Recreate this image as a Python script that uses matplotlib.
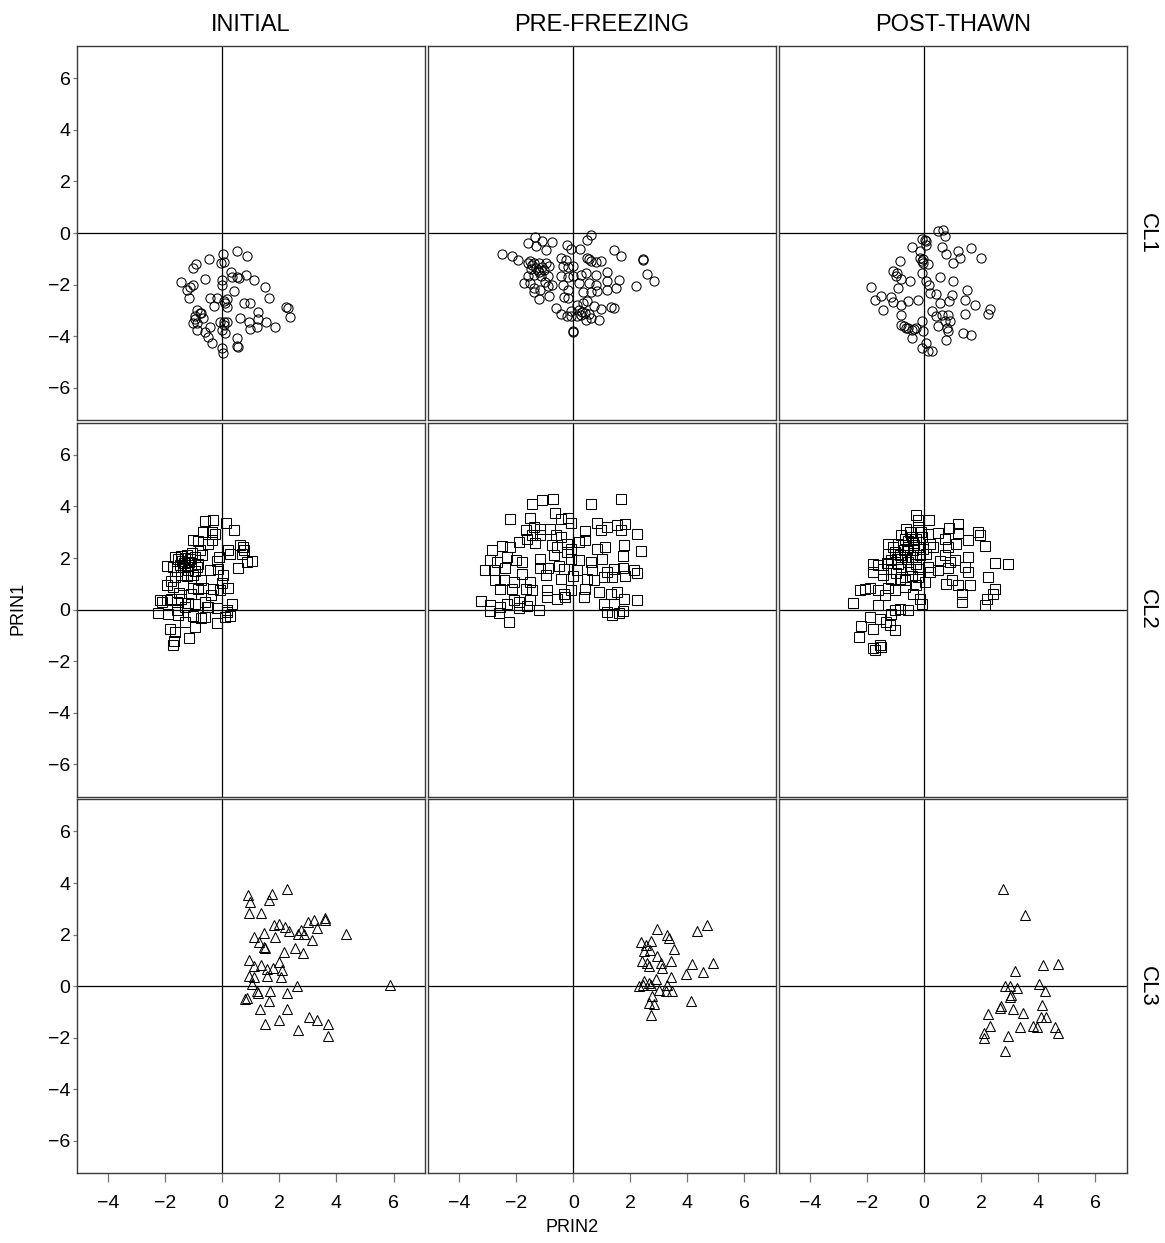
import matplotlib
matplotlib.use("Agg")
import matplotlib.pyplot as plt
import numpy as np

plt.rcParams["font.family"] = ["Liberation Sans", "DejaVu Sans"]

col_titles = ["INITIAL", "PRE-FREEZING", "POST-THAWN"]
row_titles = ["CL1", "CL2", "CL3"]
row_markers = ["o", "s", "^"]

# (PRIN2, PRIN1) pairs per cluster and stage
cl1_initial = [
    (0.50, -0.68), (0.88, -0.89), (0.01, -0.83), (-0.46, -0.99), (-0.92, -1.20), (-1.02, -1.37),
    (-0.06, -1.18), (0.06, -1.14), (-1.46, -1.89), (-1.13, -2.08), (-1.02, -2.02), (-1.23, -2.21),
    (-1.16, -2.53), (-0.61, -1.80), (-0.02, -1.82), (-0.01, -2.02), (0.29, -1.50), (0.33, -1.69),
    (0.53, -1.72), (0.60, -1.76), (0.83, -1.63), (1.11, -1.82), (1.50, -2.08), (1.65, -2.53),
    (0.41, -2.25), (0.15, -2.57), (0.06, -2.64), (-0.20, -2.53), (-0.43, -2.53), (-0.29, -2.83),
    (0.15, -2.86), (0.76, -2.70), (0.97, -2.70), (1.26, -3.05), (2.23, -2.86), (2.37, -3.24),
    (-0.90, -2.98), (-0.96, -3.22), (-0.73, -3.09), (-0.67, -3.31), (-0.88, -3.50), (-1.04, -3.50),
    (-0.90, -3.76), (-0.61, -3.82), (-0.43, -3.63), (-0.08, -3.44), (0.06, -3.44), (0.18, -3.44),
    (0.62, -3.31), (0.95, -3.44), (1.26, -3.35), (1.53, -3.44), (1.85, -3.63), (1.20, -3.66),
    (0.97, -3.73), (-0.01, -3.76), (0.09, -3.89), (-0.49, -4.02), (-0.37, -4.28), (-0.02, -4.47),
    (0.53, -4.08), (0.50, -4.38), (0.56, -4.43), (0.04, -4.66), (-0.78, -3.11),
    (2.30, -2.90), (0.05, -3.55), (-0.95, -3.35), (0.10, -2.70),
]
cl1_prefreeze = [
    (0.62, -0.06), (0.48, -0.26), (-1.35, -0.16), (-1.60, -0.39), (-1.08, -0.32), (-0.73, -0.36),
    (-1.31, -0.52), (-0.96, -0.65), (-2.48, -0.80), (-2.13, -0.88), (-1.95, -1.03), (-0.22, -0.45),
    (-0.08, -0.62), (0.25, -0.62), (1.44, -0.67), (1.67, -0.88), (2.43, -1.01), (-1.60, -1.16),
    (-1.39, -1.16), (-1.19, -1.16), (-0.96, -1.16), (-1.49, -1.40), (-1.25, -1.42), (-1.02, -1.45),
    (-0.84, -1.29), (-1.37, -1.62), (-1.13, -1.68), (-0.90, -1.68), (-1.51, -1.94), (-1.37, -2.13),
    (-1.16, -2.20), (-0.90, -2.07), (-0.73, -2.00), (-1.19, -2.56), (-0.84, -2.43), (-0.43, -0.97),
    (-0.26, -1.03), (-0.37, -1.29), (-0.18, -1.32), (0.01, -1.27), (0.50, -0.97), (0.62, -1.10),
    (0.80, -1.14), (0.97, -1.10), (0.27, -1.62), (0.44, -1.55), (0.80, -1.62), (1.20, -1.52),
    (-0.43, -1.65), (-0.18, -1.71), (-0.02, -1.68), (0.21, -1.94), (0.56, -1.94), (0.80, -2.00),
    (1.20, -1.87), (1.61, -1.83), (1.50, -2.13), (1.20, -2.20), (2.20, -2.04), (2.58, -1.58),
    (2.82, -1.87), (0.33, -2.30), (0.62, -2.30), (0.85, -2.26), (-0.34, -2.00), (-0.18, -2.20),
    (-0.32, -2.48), (-0.18, -2.52), (-0.61, -2.91), (-0.43, -3.13), (-0.08, -3.04), (0.15, -2.78),
    (0.33, -2.71), (0.50, -2.65), (0.74, -2.84), (0.97, -2.95), (1.32, -2.87), (1.44, -2.91),
    (-0.08, -3.23), (0.15, -3.23), (0.27, -3.17), (0.44, -3.36), (0.62, -3.30), (0.91, -3.36),
    (-0.02, -3.85), (-0.02, -3.80), (-1.37, -2.30), (-1.72, -1.94), (-1.60, -1.68),
    (-1.45, -1.25), (-1.30, -1.35), (-1.10, -1.30), (0.30, -3.05), (0.40, -3.10),
    (-1.50, -1.10), (-1.20, -1.50), (-1.00, -1.90), (2.45, -1.05), (0.55, -1.00),
    (0.20, -3.00), (0.55, -3.15), (-0.20, -3.20),
]
cl1_postthaw = [
    (0.49, 0.06), (0.67, 0.13), (0.73, -0.13), (-0.09, -0.22), (0.02, -0.26), (0.08, -0.45),
    (-0.44, -0.56), (-0.15, -0.68), (0.61, -0.56), (1.19, -0.68), (1.66, -0.58), (0.78, -0.81),
    (1.25, -0.97), (2.01, -0.97), (1.02, -1.16), (-0.85, -1.07), (-0.15, -0.97), (-0.09, -1.10),
    (0.14, -1.20), (-1.09, -1.49), (-0.97, -1.68), (-0.80, -1.77), (-0.50, -1.85), (-0.91, -2.13),
    (-0.09, -1.55), (0.08, -1.87), (0.16, -2.00), (0.55, -1.72), (1.02, -1.87), (-1.85, -2.11),
    (-1.73, -2.58), (-1.50, -2.45), (-1.15, -2.49), (-1.09, -2.67), (-1.44, -2.97), (-0.82, -2.78),
    (-0.56, -2.65), (-0.21, -2.58), (0.20, -2.33), (0.43, -2.36), (0.96, -2.39), (0.87, -2.62),
    (1.49, -2.20), (1.43, -2.58), (1.78, -2.80), (2.30, -2.93), (2.25, -3.14), (1.45, -3.14),
    (-0.80, -3.17), (0.26, -3.04), (0.55, -2.71), (0.43, -3.23), (0.61, -3.17), (0.84, -3.17),
    (0.90, -3.42), (0.73, -3.42), (-0.80, -3.55), (-0.62, -3.68), (-0.44, -3.75), (-0.27, -3.68),
    (-0.09, -3.42), (-0.04, -3.81), (-0.44, -4.07), (0.49, -3.62), (0.84, -3.81), (0.78, -4.13),
    (1.37, -3.88), (1.66, -3.94), (-0.09, -4.46), (0.12, -4.59), (0.26, -4.56), (0.08, -4.26),
    (-0.05, -1.00), (-0.95, -1.55), (-0.55, -3.70), (-0.70, -3.60), (-0.35, -3.72),
    (0.05, -0.30), (-0.05, -1.15), (0.80, -3.70),
]

cl2_initial = [
    (-0.61, 3.44), (-0.34, 3.49), (0.13, 3.36), (0.41, 3.10), (-0.67, 3.01), (-0.37, 3.01),
    (-0.26, 2.95), (-1.02, 2.69), (-0.84, 2.66), (-0.37, 2.69), (-0.78, 2.33), (0.21, 2.33),
    (0.62, 2.49), (0.74, 2.43), (0.27, 2.17), (0.68, 2.14), (1.03, 1.89), (0.85, 1.85),
    (0.56, 1.63), (-0.11, 2.04), (-0.20, 1.89), (-1.66, 2.02), (-1.43, 2.07), (-1.25, 2.11),
    (-1.13, 1.98), (-0.96, 2.02), (-0.84, 1.78), (-1.93, 1.68), (-1.72, 1.65), (-1.49, 1.72),
    (-1.31, 1.65), (-1.08, 1.72), (-0.90, 1.65), (-0.43, 1.55), (-0.14, 1.59), (0.04, 1.33),
    (0.21, 0.85), (-0.02, 1.03), (-1.66, 1.27), (-1.43, 1.33), (-1.25, 1.29), (-1.02, 1.33),
    (-0.73, 1.16), (-0.67, 0.85), (-1.95, 0.94), (-1.72, 0.88), (-1.37, 0.94), (-1.02, 0.85),
    (-0.84, 0.81), (-0.32, 0.81), (-0.08, 0.75), (-2.19, 0.39), (-1.95, 0.36), (-1.78, 0.43),
    (-1.58, 0.30), (-1.43, 0.43), (-1.19, 0.26), (-0.96, 0.23), (-0.61, 0.30), (-0.49, 0.10),
    (-0.20, 0.08), (0.33, 0.23), (-2.25, -0.13), (-1.89, -0.16), (-1.54, -0.22), (-1.02, -0.26),
    (-0.73, -0.31), (-0.61, -0.28), (-0.20, -0.52), (0.18, -0.09), (0.27, -0.26), (-0.96, -0.67),
    (-1.84, -0.74), (-1.66, -0.87), (-1.72, -1.38), (-1.16, -1.09), (-0.55, 0.10), (-1.60, -0.03),
    (-1.55, 1.95), (-1.35, 1.80), (-1.20, 1.55), (-1.05, 2.20), (-0.70, 2.10), (-1.80, 1.10),
    (-1.50, 0.65), (-1.10, 0.60), (-0.40, 0.55), (0.10, -0.30), (-1.70, -1.20), (-1.30, -0.50),
    (-1.40, 1.90), (-1.15, 1.85), (-1.30, 2.00), (-0.95, 1.50), (-1.60, 1.50), (-2.10, 0.30),
    (-1.30, 0.10), (0.15, 0.00), (-0.50, 2.55), (0.75, 2.30),
]
cl2_prefreeze = [
    (-1.44, 4.11), (-1.11, 4.24), (-0.70, 4.30), (0.61, 4.11), (1.68, 4.30), (-2.20, 3.53),
    (-1.52, 3.57), (-0.65, 3.75), (-0.44, 3.53), (-0.19, 3.57), (-0.09, 3.36), (0.84, 3.36),
    (1.19, 3.20), (1.54, 3.27), (1.80, 3.33), (-1.67, 3.07), (-1.38, 3.20), (-1.15, 3.14),
    (-0.80, 3.14), (-0.62, 2.88), (-0.44, 2.82), (0.43, 3.05), (0.96, 3.07), (1.66, 3.10),
    (2.25, 2.92), (-2.84, 2.30), (-2.49, 2.45), (-2.20, 2.43), (-1.91, 2.62), (-1.61, 2.75),
    (-1.44, 2.88), (-1.15, 2.88), (-0.74, 2.49), (-0.56, 2.43), (-0.21, 2.56), (-0.09, 2.36),
    (0.20, 2.62), (0.43, 2.69), (0.84, 2.36), (1.13, 2.43), (1.78, 2.49), (2.36, 2.27),
    (-2.90, 1.91), (-2.67, 1.85), (-2.32, 2.04), (-2.02, 1.91), (-1.79, 1.85), (-1.15, 1.98),
    (-0.68, 2.11), (-0.09, 1.98), (0.20, 1.91), (0.61, 1.85), (1.75, 2.07), (-3.08, 1.55),
    (-2.78, 1.52), (-1.15, 1.63), (-0.89, 1.63), (-0.33, 1.59), (0.14, 1.52), (0.67, 1.52),
    (1.19, 1.46), (1.43, 1.59), (1.75, 1.63), (2.13, 1.52), (2.25, 1.40), (-2.73, 1.14),
    (-2.43, 1.14), (-2.08, 1.07), (-1.79, 1.37), (-1.50, 1.07), (-0.97, 1.33), (-0.44, 1.20),
    (0.49, 1.20), (0.73, 1.14), (1.08, 1.27), (1.37, 1.27), (1.80, 1.29), (-2.55, 0.81),
    (-2.14, 0.81), (-1.67, 0.78), (-1.44, 0.75), (-0.91, 0.75), (-0.33, 0.62), (-0.09, 0.75),
    (0.43, 0.81), (0.90, 0.68), (1.31, 0.62), (1.54, 0.68), (-3.23, 0.34), (-2.90, 0.17),
    (-2.32, 0.21), (-1.91, 0.30), (-1.50, 0.39), (-0.91, 0.49), (-0.56, 0.43), (-0.27, 0.49),
    (0.37, 0.49), (1.08, 0.23), (1.43, 0.21), (1.78, 0.43), (2.25, 0.36), (-1.61, 0.13),
    (-2.08, 0.36), (-2.90, -0.05), (-2.60, -0.15), (-2.25, -0.50), (1.20, -0.10), (1.35, -0.20),
    (1.60, -0.15), (1.75, -0.05), (-1.20, 0.00), (-1.90, 0.05), (-2.55, 0.10),
    (-1.35, 2.60), (-0.20, 2.25), (-0.50, 1.70), (-2.40, 1.60), (0.00, 1.30), (1.00, 1.95),
]
cl2_postthaw = [
    (-0.30, 3.66), (-0.23, 3.46), (0.16, 3.46), (0.87, 3.18), (1.17, 3.33), (1.19, 2.97),
    (1.89, 3.01), (1.95, 2.88), (2.13, 2.45), (1.54, 2.69), (1.10, 2.56), (-0.62, 3.14),
    (-0.50, 3.01), (-0.21, 3.20), (-0.12, 3.01), (0.14, 2.95), (0.49, 2.97), (-0.80, 2.88),
    (-0.68, 2.75), (-0.44, 2.82), (-0.27, 2.75), (-0.09, 2.82), (-1.26, 2.56), (-1.09, 2.43),
    (-0.91, 2.53), (-0.74, 2.49), (-0.56, 2.43), (-0.39, 2.33), (-0.21, 2.43), (0.20, 2.56),
    (0.73, 2.75), (0.84, 2.43), (0.32, 2.43), (0.73, 2.11), (0.90, 1.85), (1.08, 1.91),
    (1.54, 2.04), (2.48, 1.81), (2.95, 1.78), (1.43, 1.65), (1.54, 1.46), (-1.26, 2.17),
    (-1.03, 2.24), (-0.85, 2.11), (-0.68, 2.04), (-0.44, 2.04), (-0.15, 2.11), (0.08, 2.17),
    (-1.15, 1.91), (-0.91, 1.78), (-0.56, 1.85), (-0.27, 1.78), (0.14, 1.65), (0.49, 1.52),
    (-1.79, 1.78), (-1.61, 1.72), (-1.44, 1.59), (-1.15, 1.59), (-0.80, 1.65), (-0.50, 1.59),
    (-0.21, 1.59), (0.20, 1.46), (-1.79, 1.46), (-1.44, 1.33), (-1.15, 1.20), (-0.85, 1.20),
    (-0.68, 1.14), (-0.44, 1.29), (-0.21, 1.27), (0.02, 1.07), (0.78, 1.01), (0.96, 1.14),
    (1.19, 0.94), (1.31, 0.62), (1.31, 0.30), (1.60, 0.94), (2.25, 1.27), (2.48, 0.81),
    (2.42, 0.62), (2.19, 0.43), (2.13, 0.17), (-2.26, 0.75), (-2.08, 0.81), (-1.91, 0.85),
    (-1.61, 0.75), (-1.38, 0.56), (-1.03, 0.75), (-0.68, 0.88), (-0.39, 0.62), (-0.15, 0.43),
    (-0.09, 0.23), (-2.49, 0.26), (-1.61, 0.17), (-1.03, -0.03), (-0.85, 0.04), (-0.56, -0.03),
    (-1.15, -0.16), (-1.91, -0.28), (-1.56, -0.35), (-1.32, -0.48), (-2.20, -0.65), (-1.79, -0.74),
    (-1.20, -0.61), (-1.03, -0.80), (-2.29, -1.06), (-1.79, -1.47), (-1.56, -1.38), (-1.50, -1.45),
    (-1.73, -1.58), (-0.40, 2.60), (-0.60, 2.30), (-0.30, 2.05), (-0.95, 1.95), (-1.30, 1.80),
    (-0.55, 2.65), (-0.70, 2.30), (-0.35, 2.50), (-0.05, 2.35), (-0.80, 1.95), (-1.00, 1.40),
    (-0.30, 0.95), (-1.25, 0.85), (0.55, 1.90), (0.85, 1.60),
]

cl3_initial = [
    (2.27, 3.76), (1.74, 3.59), (0.89, 3.54), (0.98, 3.28), (1.63, 3.33), (0.92, 2.82),
    (1.36, 2.82), (1.80, 2.38), (1.98, 2.43), (2.21, 2.30), (2.33, 2.14), (2.74, 2.17),
    (2.64, 2.04), (2.85, 2.02), (2.99, 2.47), (3.20, 2.56), (3.32, 2.25), (3.61, 2.66),
    (3.61, 2.56), (4.32, 2.04), (3.15, 1.78), (1.10, 1.91), (1.45, 2.08), (1.86, 1.89),
    (1.27, 1.73), (1.45, 1.52), (1.51, 1.47), (2.15, 1.34), (2.56, 1.50), (2.83, 1.27),
    (0.92, 1.01), (1.10, 0.79), (1.36, 0.83), (1.57, 0.66), (1.78, 0.70), (1.98, 0.92),
    (2.09, 0.62), (0.92, 0.40), (1.10, 0.34), (1.57, 0.40), (2.04, 0.34), (1.04, 0.08),
    (2.60, 0.01), (1.22, -0.18), (1.24, -0.25), (1.68, -0.18), (2.27, -0.28), (0.87, -0.44),
    (1.63, -0.59), (5.89, 0.05), (1.33, -0.89), (2.27, -0.89), (1.50, -1.45), (2.00, -1.30),
    (2.65, -1.70), (3.05, -1.20), (3.30, -1.30), (3.70, -1.45), (3.70, -1.95), (0.80, -0.50),
]
cl3_prefreeze = [
    (2.95, 2.20), (3.27, 1.98), (3.36, 1.87), (4.33, 2.13), (4.68, 2.36), (2.36, 1.72),
    (2.54, 1.61), (2.71, 1.74), (3.53, 1.46), (2.48, 1.38), (2.69, 1.42), (2.95, 1.16),
    (3.41, 0.97), (2.42, 0.97), (2.60, 0.90), (2.65, 0.78), (3.06, 0.90), (3.12, 0.71),
    (4.17, 0.87), (4.91, 0.90), (3.94, 0.48), (4.56, 0.56), (2.48, 0.22), (2.65, 0.13),
    (2.89, 0.26), (3.41, 0.35), (2.30, 0.00), (2.46, 0.04), (2.71, 0.04), (3.00, -0.13),
    (3.24, -0.17), (3.47, -0.19), (3.30, 0.04), (4.12, -0.56), (2.77, -0.39), (2.65, -0.65),
    (2.83, -0.68), (2.71, -1.12),
]
cl3_postthaw = [
    (2.77, 3.76), (3.53, 2.76), (4.15, 0.81), (4.70, 0.88), (3.18, 0.57), (2.83, 0.01),
    (3.00, 0.01), (3.24, -0.08), (4.02, 0.08), (4.23, -0.18), (3.04, -0.34), (3.00, -0.41),
    (2.71, -0.76), (2.65, -0.83), (3.12, -0.89), (3.47, -1.02), (4.14, -0.72), (2.24, -1.06),
    (4.26, -1.18), (2.10, -2.00), (2.30, -1.55), (2.85, -2.50), (2.95, -1.95), (3.35, -1.60),
    (3.80, -1.55), (3.95, -1.60), (4.10, -1.20), (4.60, -1.60), (4.70, -1.80), (2.10, -1.80),
]

panels = [
    [cl1_initial, cl1_prefreeze, cl1_postthaw],
    [cl2_initial, cl2_prefreeze, cl2_postthaw],
    [cl3_initial, cl3_prefreeze, cl3_postthaw],
]

W, H = 1165, 1243
fig = plt.figure(figsize=(W / 100, H / 100), dpi=100)

left0, top0 = 76.7, 46.0
pw, ph, gap = 348.3, 374.0, 2.6
marker_size = {"o": 6.6, "s": 7.0, "^": 7.6}

for r in range(3):
    for c in range(3):
        x0 = left0 + c * (pw + gap)
        y0 = top0 + r * (ph + gap)
        ax = fig.add_axes([x0 / W, 1 - (y0 + ph) / H, pw / W, ph / H])
        pts = np.array(panels[r][c])
        ax.axhline(0, color="black", lw=0.9, zorder=1)
        ax.axvline(0, color="black", lw=0.9, zorder=1)
        m = row_markers[r]
        ax.plot(pts[:, 0], pts[:, 1], linestyle="none", marker=m,
                markersize=marker_size[m], markerfacecolor="none",
                markeredgecolor="black", markeredgewidth=0.75, zorder=2)
        ax.set_xlim(-5.1, 7.1)
        ax.set_ylim(-7.25, 7.25)
        ax.set_xticks([-4, -2, 0, 2, 4, 6])
        ax.set_yticks([-6, -4, -2, 0, 2, 4, 6])
        for sp in ax.spines.values():
            sp.set_color("#3a3a3a")
            sp.set_linewidth(1.0)
        ax.tick_params(axis="x", length=6.5, width=0.9, color="#777777",
                       labelsize=14, pad=9, bottom=(r == 2), labelbottom=(r == 2))
        ax.tick_params(axis="y", length=3, width=0.9, color="#777777",
                       labelsize=14, pad=1.5, left=(c == 0), labelleft=(c == 0))
        if r == 0:
            ax.text(0.5, 1 + 21 / ph, col_titles[c], transform=ax.transAxes,
                    ha="center", va="center", fontsize=17)
        if c == 2:
            ax.text(1 + 21 / pw, 0.5, row_titles[r], transform=ax.transAxes,
                    ha="center", va="center", rotation=270, fontsize=16)

fig.text(18 / W, 1 - 608 / H, "PRIN1", rotation=90, ha="center", va="center", fontsize=13)
fig.text(572 / W, 1 - 1228 / H, "PRIN2", ha="center", va="center", fontsize=13)

fig.savefig("out.png", dpi=100)
